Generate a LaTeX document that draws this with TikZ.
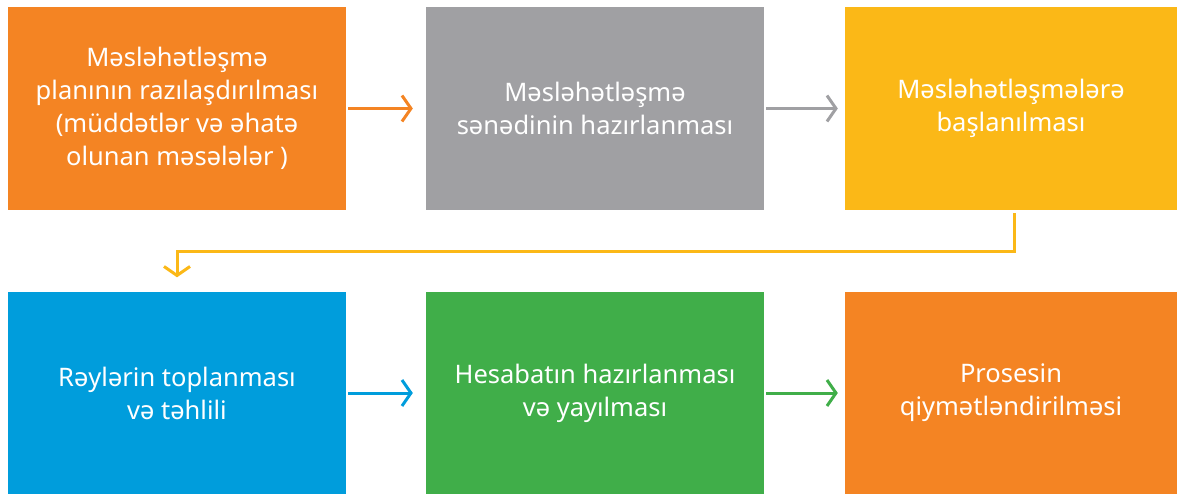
\documentclass[tikz,border=0pt]{standalone}
\usepackage{fontspec}
\setmainfont{Noto Sans}
\usetikzlibrary{arrows.meta}
\definecolor{cOrange}{HTML}{F48423}
\definecolor{cGrey}{HTML}{A0A0A3}
\definecolor{cYellow}{HTML}{FBB817}
\definecolor{cBlue}{HTML}{009DDC}
\definecolor{cGreen}{HTML}{40AE49}
\tikzset{
  stepbox/.style={fill=#1, draw=none, text=white, align=center, inner sep=0pt,
    minimum width=338pt, minimum height=203pt,
    font=\fontsize{25.5}{33}\selectfont},
  flow/.style={draw=#1, line width=3pt,
    -{Straight Barb[length=9pt, width=26pt, line width=3pt]}}
}
\begin{document}
\begin{tikzpicture}[x=1pt, y=-1pt]
\useasboundingbox (0,0) rectangle (1177,494);
% top row
\node[stepbox=cOrange] (a) at (177,108.5) {Məsləhətləşmə\\planının razılaşdırılması\\(müddətlər və əhatə\\olunan məsələlər )};
\node[stepbox=cGrey] (b) at (595,108.5) {Məsləhətləşmə\\sənədinin hazırlanması};
\node[stepbox=cYellow, minimum width=332pt] (c) at (1011,108.5) {Məsləhətləşmələrə\\başlanılması};
% bottom row
\node[stepbox=cBlue] (d) at (177,393) {Rəylərin toplanması\\və təhlili};
\node[stepbox=cGreen] (e) at (595,393) {Hesabatın hazırlanması\\və yayılması};
\node[stepbox=cOrange, minimum width=332pt] (f) at (1011,393) {Prosesin\\qiymətləndirilməsi};
% connectors
\draw[flow=cOrange, shorten <=2pt, shorten >=13pt] (a.east) -- (b.west);
\draw[flow=cGrey, shorten <=2pt, shorten >=7pt] (b.east) -- (c.west);
\coordinate (bend) at (177,252);
\draw[flow=cYellow, shorten <=3pt, shorten >=14pt] ([xshift=3pt]c.south) |- (bend) -- (d.north);
\draw[flow=cBlue, shorten <=2pt, shorten >=13pt] (d.east) -- (e.west);
\draw[flow=cGreen, shorten <=2pt, shorten >=7pt] (e.east) -- (f.west);
\end{tikzpicture}
\end{document}
